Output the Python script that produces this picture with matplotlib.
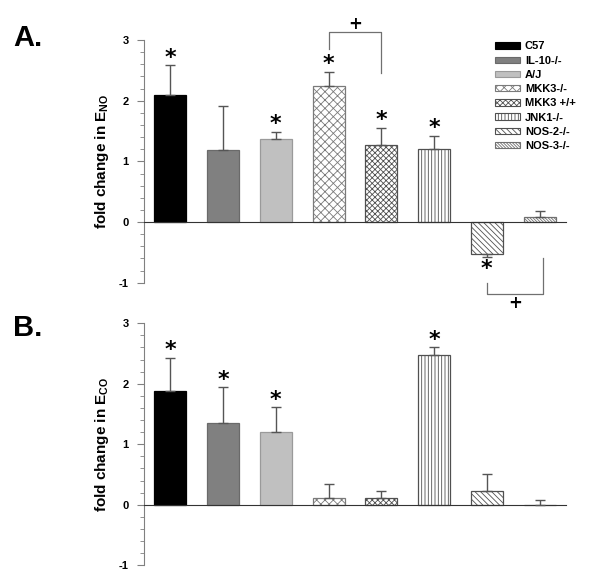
import matplotlib
matplotlib.use("Agg")
import matplotlib.pyplot as plt
from matplotlib.patches import Patch
import numpy as np

groups = ["C57", "IL-10-/-", "A/J", "MKK3-/-", "MKK3 +/+", "JNK1-/-", "NOS-2-/-", "NOS-3-/-"]
eno_vals = [2.10, 1.18, 1.37, 2.25, 1.27, 1.21, -0.53, 0.09]
eno_err = [0.48, 0.73, 0.11, 0.22, 0.28, 0.21, 0.05, 0.10]
eno_sig = [True, False, True, True, True, True, True, False]
eco_vals = [1.88, 1.35, 1.20, 0.115, 0.115, 2.47, 0.23, 0.0]
eco_err = [0.54, 0.59, 0.41, 0.235, 0.115, 0.13, 0.28, 0.08]
eco_sig = [True, True, True, False, False, True, False, False]
yticks = [-1, 0, 1, 2, 3]

facecolors = ["black", "#808080", "#c0c0c0", "white", "white", "white", "white", "white"]
edgecolors = ["black", "#6a6a6a", "#9a9a9a", "#7a7a7a", "#505050", "#505050", "#505050", "#707070"]
hatches = [None, None, None, "xxxx", "xxxxxx", "|||||", "\\" * 6, "\\" * 11]

plt.rcParams["hatch.linewidth"] = 0.6
plt.rcParams["font.family"] = ["Liberation Sans", "DejaVu Sans"]
plt.rcParams["mathtext.fontset"] = "custom"
plt.rcParams["mathtext.rm"] = "Liberation Sans"
plt.rcParams["mathtext.bf"] = "Liberation Sans:bold"

fig = plt.figure(figsize=(6.0, 5.83), dpi=100)
axA = fig.add_axes([0.24, 0.515, 0.7033, 0.4164])
axB = fig.add_axes([0.24, 0.0304, 0.7033, 0.4151])

x = np.arange(len(groups))
axis_col = "#808080"


def draw(ax, vals, errs, sig, ylabel):
    for i in range(len(groups)):
        ax.bar(x[i], vals[i], width=0.61, color=facecolors[i], edgecolor=edgecolors[i],
               hatch=hatches[i], linewidth=0.9, zorder=2)
        lo = [0] if vals[i] >= 0 else [errs[i]]
        hi = [errs[i]] if vals[i] >= 0 else [0]
        ax.errorbar(x[i], vals[i], yerr=[lo, hi], fmt="none", ecolor="#555555",
                    elinewidth=1.0, capsize=3.5, capthick=1.0, zorder=3)
        if sig[i]:
            if vals[i] >= 0:
                ax.text(x[i], vals[i] + errs[i] + 0.13, "*", ha="center", va="center",
                        fontsize=16, fontweight="bold", family="DejaVu Sans")
            else:
                ax.text(x[i], vals[i] - errs[i] - 0.2, "*", ha="center", va="center",
                        fontsize=16, fontweight="bold", family="DejaVu Sans")
    ax.set_xlim(-0.5, 7.5)
    ax.set_ylim(-1, 3)
    ax.set_yticks(yticks)
    ax.set_yticks(np.arange(-1, 3.01, 0.2), minor=True)
    ax.set_yticklabels([str(t) for t in yticks], fontweight="bold", fontsize=8)
    ax.spines["top"].set_visible(False)
    ax.spines["right"].set_visible(False)
    ax.spines["bottom"].set_position(("data", 0))
    ax.spines["bottom"].set_color("#333333")
    ax.spines["left"].set_color(axis_col)
    ax.spines["left"].set_linewidth(0.8)
    ax.tick_params(axis="x", bottom=False, labelbottom=False)
    ax.tick_params(axis="y", which="major", direction="out", length=5, color=axis_col, pad=6)
    ax.tick_params(axis="y", which="minor", direction="out", length=3, color=axis_col)
    ax.set_ylabel(ylabel, fontsize=11, fontweight="bold", labelpad=6)


draw(axA, eno_vals, eno_err, eno_sig, r"fold change in E$_{\mathbf{NO}}$")
draw(axB, eco_vals, eco_err, eco_sig, r"fold change in E$_{\mathbf{CO}}$")

# significance brackets in panel A
bcol = "#707070"
axA.plot([3, 3, 4, 4], [2.85, 3.13, 3.13, 2.46], color=bcol, lw=0.9, clip_on=False)
axA.text(3.5, 3.27, "+", ha="center", va="center", fontsize=12, fontweight="bold",
         family="DejaVu Sans")
axA.plot([6, 6, 7.07, 7.07], [-1.0, -1.19, -1.19, -0.59], color=bcol, lw=0.9, clip_on=False)
axA.text(6.54, -1.34, "+", ha="center", va="center", fontsize=12, fontweight="bold",
         family="DejaVu Sans")

# legend
handles = [Patch(facecolor=facecolors[i], edgecolor=edgecolors[i], hatch=hatches[i],
                 linewidth=0.8, label=groups[i]) for i in range(len(groups))]
leg = fig.legend(handles=handles, loc="upper left", bbox_to_anchor=(0.808, 0.946),
                 frameon=False, prop={"weight": "bold", "size": 8},
                 handlelength=2.3, handleheight=0.5, labelspacing=0.38, handletextpad=0.4)

fig.text(0.022, 0.935, "A.", fontsize=21, fontweight="bold", ha="left", va="center")
fig.text(0.022, 0.438, "B.", fontsize=21, fontweight="bold", ha="left", va="center")

fig.savefig("out.png", dpi=100)
